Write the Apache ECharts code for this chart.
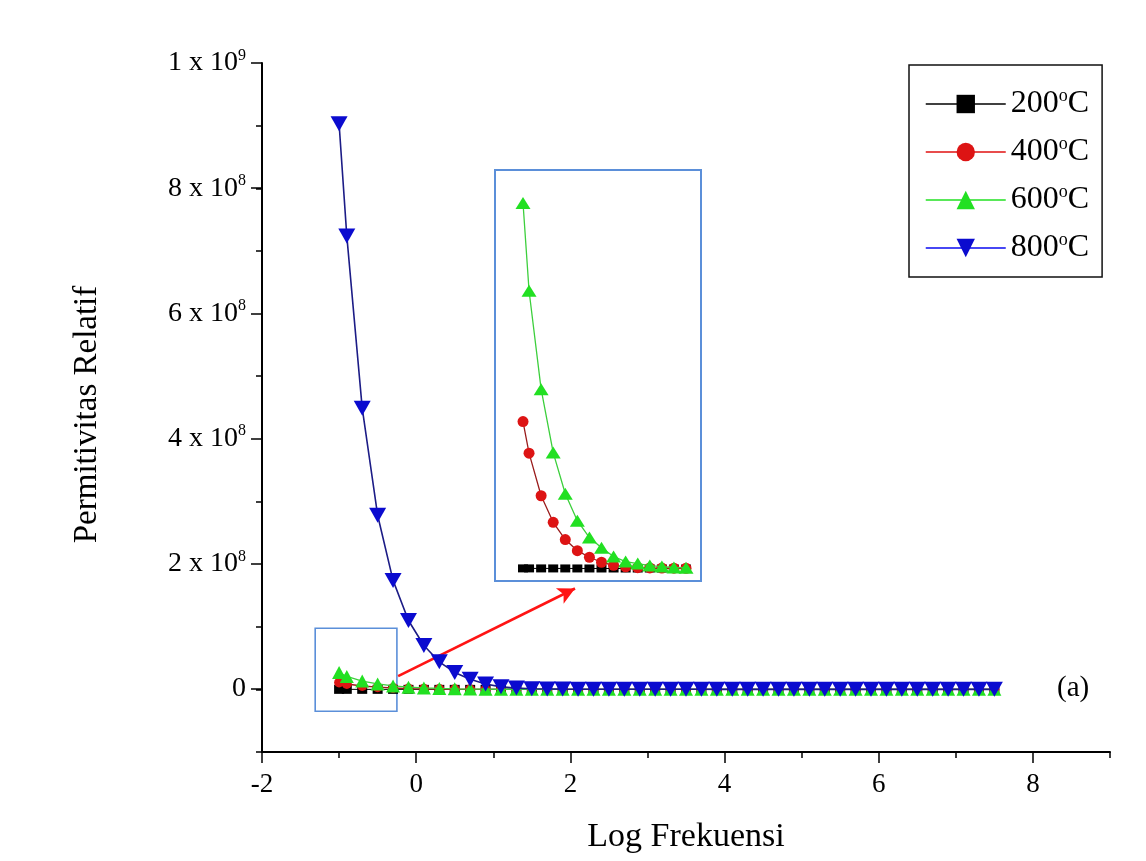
<!DOCTYPE html>
<html>
<head>
<meta charset="utf-8">
<script src="https://cdn.jsdelivr.net/npm/echarts@6/dist/echarts.min.js"></script>
<style>html,body{margin:0;padding:0;background:#fff;}#c{width:1146px;height:861px;}</style>
</head>
<body>
<div id="c"></div>
<script>
// ---- data ----
const seriesNames = ['200°C', '400°C', '600°C', '800°C'];
const logF = [-1, -0.9, -0.7, -0.5, -0.3, -0.1, 0.1, 0.3, 0.5, 0.7, 0.9, 1.1, 1.3, 1.5, 1.7,
  1.9, 2.1, 2.3, 2.5, 2.7, 2.9, 3.1, 3.3, 3.5, 3.7, 3.9, 4.1, 4.3, 4.5, 4.7, 4.9,
  5.1, 5.3, 5.5, 5.7, 5.9, 6.1, 6.3, 6.5, 6.7, 6.9, 7.1, 7.3, 7.5];
const perm200 = [1.5e4, 1.4e4, 1.3e4, 1.2e4, 1.1e4, 1.0e4, 9e3, 8e3, 7e3, 6e3, 5e3, 4.5e3, 4e3, 3.5e3, 3e3,
  2.8e3, 2.6e3, 2.5e3, 2.4e3, 2.3e3, 2.2e3, 2.1e3, 2e3, 1.9e3, 1.8e3, 1.7e3, 1.6e3, 1.5e3, 1.4e3, 1.3e3,
  1.2e3, 1.1e3, 1e3, 950, 900, 850, 800, 750, 700, 650, 600, 550, 500, 450];
const perm400 = [1.09e7, 8.56e6, 5.4e6, 3.43e6, 2.15e6, 1.33e6, 8.4e5, 4.7e5, 2.4e5, 1.3e5, 7e4, 5e4, 4e4, 3e4, 2.5e4,
  2.2e4, 2e4, 1.8e4, 1.7e4, 1.6e4, 1.5e4, 1.4e4, 1.3e4, 1.2e4, 1.1e4, 1e4, 9.5e3, 9e3, 8.5e3, 8e3,
  7.5e3, 7e3, 6.5e3, 6e3, 5.5e3, 5e3, 4.8e3, 4.6e3, 4.4e3, 4.2e3, 4e3, 3.8e3, 3.6e3, 3.4e3];
const perm600 = [2.71e7, 2.06e7, 1.33e7, 8.6e6, 5.55e6, 3.55e6, 2.3e6, 1.55e6, 8.9e5, 5.2e5, 3.7e5, 2.2e5, 1.5e5, 8e4, 7e4,
  6e4, 5.5e4, 5e4, 4.6e4, 4.3e4, 4e4, 3.8e4, 3.6e4, 3.4e4, 3.3e4, 3.2e4, 3.1e4, 3e4, 2.9e4, 2.8e4,
  2.7e4, 2.6e4, 2.5e4, 2.4e4, 2.3e4, 2.2e4, 2.1e4, 2e4, 1.9e4, 1.8e4, 1.7e4, 1.6e4, 1.5e4, 1.4e4];
const perm800 = [9.03e8, 7.24e8, 4.49e8, 2.78e8, 1.74e8, 1.10e8, 7.0e7, 4.4e7, 2.7e7, 1.6e7, 8.5e6, 4.0e6, 2.0e6, 1.0e6, 6e5,
  4e5, 3e5, 2.5e5, 2e5, 1.6e5, 1.3e5, 1.1e5, 9e4, 8e4, 7e4, 6e4, 5.5e4, 5e4, 4.5e4, 4e4,
  3.8e4, 3.6e4, 3.4e4, 3.2e4, 3e4, 2.9e4, 2.8e4, 2.7e4, 2.6e4, 2.5e4, 2.4e4, 2.3e4, 2.2e4, 2.1e4];
const insetCount = 15;               // points shown in the magnified inset
const zoomBox = [[-1.31, 0.975e8], [-0.25, -0.35e8]];   // region marked on main plot
const arrowFrom = [-0.234, 0.21e8];
const arrowTo = [2.06, 1.61e8];
const yTickMajor = 2e8;

// ---- build ----
const F = 'Liberation Serif';
const pair = (vals, n) => logF.slice(0, n || logF.length).map((x, i) => [x, vals[i]]);
const downTri = 'path://M0,0 L10,0 L5,9 Z';

const styles = [
  {symbol: 'rect', size: [10, 9], color: '#000000', line: '#000000', lw: 1, legLine: '#000000'},
  {symbol: 'circle', size: 10, color: '#dd1414', line: '#9a1c1c', lw: 1.3, legLine: '#e01010'},
  {symbol: 'triangle', size: [14, 13], color: '#22e022', line: '#3ccf3c', lw: 1.3, legLine: '#22e022'},
  {symbol: downTri, size: [17, 15], color: '#0b0bcf', line: '#1c1c86', lw: 1.6, legLine: '#0a0af0'}
];
const insetStyles = [
  {size: [10, 8]}, {size: 11}, {size: [15, 12]}
];
const valuesList = [perm200, perm400, perm600, perm800];

const series = [];
valuesList.forEach((vals, k) => {
  const s = styles[k];
  const ser = {
    name: seriesNames[k], type: 'line', xAxisIndex: 0, yAxisIndex: 0,
    data: pair(vals), symbol: s.symbol, symbolSize: s.size, showSymbol: true,
    itemStyle: {color: s.color}, lineStyle: {color: s.line, width: s.lw},
    z: 3 + k
  };
  if (k === 0) {
    ser.markArea = {
      silent: true,
      itemStyle: {color: 'rgba(0,0,0,0)', borderColor: '#5b8fd9', borderWidth: 1.6},
      data: [[{coord: zoomBox[0]}, {coord: zoomBox[1]}]]
    };
  }
  series.push(ser);
});
// inset copies (not in legend)
[0, 1, 2].forEach(k => {
  const s = styles[k];
  series.push({
    name: 'inset' + k, type: 'line', xAxisIndex: 2, yAxisIndex: 2,
    data: pair(valuesList[k], insetCount), symbol: s.symbol, symbolSize: insetStyles[k].size,
    itemStyle: {color: s.color}, lineStyle: {color: s.line, width: s.lw}, z: 10 + k
  });
});
// arrow annotation
series.push({
  name: 'arrow', type: 'line', xAxisIndex: 0, yAxisIndex: 0, data: [], z: 20,
  markLine: {
    silent: true, symbol: ['none', 'arrow'], symbolSize: [13, 17],
    lineStyle: {color: '#ff1414', width: 2.6, type: 'solid'},
    label: {show: false},
    data: [[{coord: arrowFrom}, {coord: arrowTo}]]
  }
});

const yLabel = v => {
  if (v === 0) return '{b|0}';
  if (v >= 1e9) return '{b|' + (v / 1e9) + ' x 10}{s|9}';
  return '{b|' + (v / 1e8) + ' x 10}{s|8}';
};
const supRich = {
  b: {fontFamily: F, fontSize: 28, color: '#000'},
  s: {fontFamily: F, fontSize: 16, color: '#000', padding: [0, 0, 15, 0]}
};

const option = {
  backgroundColor: '#ffffff',
  animation: false,
  grid: [
    {left: 262, top: 63, right: 36, bottom: 109},
    {left: 262, top: 63, right: 113, bottom: 172},
    {left: 495, top: 170, width: 206, height: 411, show: true, borderColor: '#5b8fd9', borderWidth: 2, backgroundColor: 'rgba(0,0,0,0)', z: 5}
  ],
  xAxis: [
    {gridIndex: 0, type: 'value', min: -2, max: 9, interval: 1,
      axisLine: {onZero: false, lineStyle: {color: '#000', width: 2}},
      axisTick: {length: 6, lineStyle: {color: '#000', width: 1.5}},
      axisLabel: {show: false}, splitLine: {show: false},
      name: 'Log Frekuensi', nameLocation: 'middle', nameGap: 68,
      nameTextStyle: {fontFamily: F, fontSize: 34, color: '#000'}},
    {gridIndex: 1, type: 'value', min: -2, max: 8, interval: 2, offset: 63,
      axisLine: {show: false, onZero: false},
      axisTick: {length: 11, lineStyle: {color: '#000', width: 1.5}},
      axisLabel: {fontFamily: F, fontSize: 27, color: '#000', margin: 19},
      splitLine: {show: false}},
    {gridIndex: 2, type: 'value', min: -1.464, max: 1.948, show: false, splitLine: {show: false}}
  ],
  yAxis: [
    {gridIndex: 0, type: 'value', min: -1e8, max: 1e9, interval: 1e8,
      axisLine: {onZero: false, lineStyle: {color: '#000', width: 2}},
      axisTick: {length: 6, lineStyle: {color: '#000', width: 1.5}},
      axisLabel: {show: false}, splitLine: {show: false},
      name: 'Permitivitas Relatif', nameLocation: 'middle', nameGap: 158,
      nameTextStyle: {fontFamily: F, fontSize: 33, color: '#000', padding: [0, 0, 0, -14]}},
    {gridIndex: 1, type: 'value', min: 0, max: 1e9, interval: yTickMajor,
      axisLine: {show: false, onZero: false},
      axisTick: {length: 11, lineStyle: {color: '#000', width: 1.5}},
      axisLabel: {margin: 16, formatter: yLabel, rich: supRich},
      splitLine: {show: false}},
    {gridIndex: 2, type: 'value', min: -9.2e5, max: 2.955e7, show: false, splitLine: {show: false}}
  ],
  legend: {
    orient: 'vertical', left: 909, top: 65,
    data: seriesNames.map((n, k) => ({name: n, lineStyle: {color: styles[k].legLine, width: 1.5}})),
    itemWidth: 80, itemHeight: 23, itemGap: 15,
    padding: [22, 13, 13, 16],
    borderColor: '#111', borderWidth: 1.5, backgroundColor: '#fff',
    formatter: n => '{n|' + n.replace('°C', '') + '}{s|o}{n|C}',
    textStyle: {
      rich: {
        n: {fontFamily: F, fontSize: 32, color: '#000'},
        s: {fontFamily: F, fontSize: 18, color: '#000', padding: [0, 0, 16, 0]}
      }
    }
  },
  graphic: [
    {type: 'text', left: 1057, top: 674, style: {text: '(a)', font: '29px "Liberation Serif"', fill: '#000'}}
  ],
  series: series
};
const chart = echarts.init(document.getElementById('c'), null, {renderer: 'canvas'});
chart.setOption(option);
</script>
</body>
</html>
